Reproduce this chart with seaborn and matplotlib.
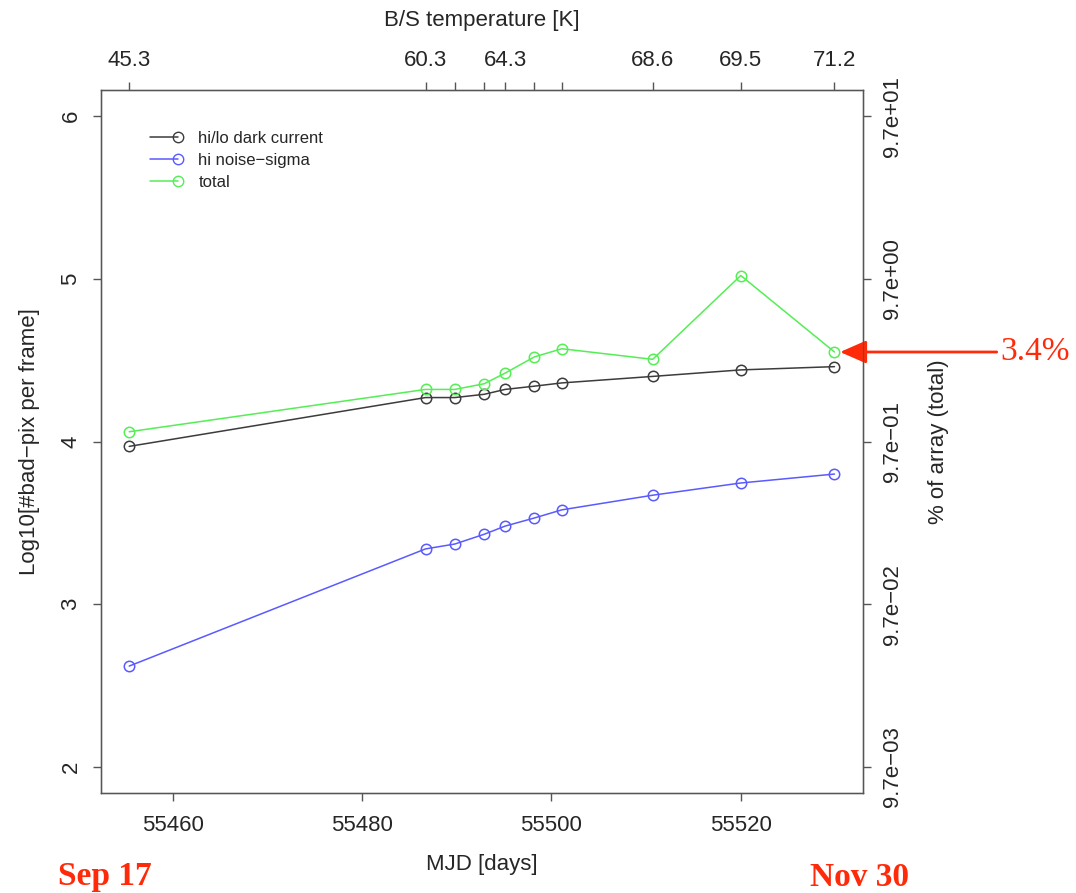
import pandas as pd
import matplotlib.pyplot as plt
import seaborn as sns
from matplotlib.lines import Line2D
from matplotlib.legend_handler import HandlerLine2D

# values
mjd = [55455.4, 55486.7, 55489.8, 55492.9, 55495.1, 55498.2, 55501.1, 55510.7, 55520.0, 55529.9]
temp_labels = ['45.3', '60.3', '', '', '64.3', '', '', '68.6', '69.5', '71.2']
dark_current = [3.97, 4.27, 4.27, 4.29, 4.32, 4.34, 4.36, 4.40, 4.44, 4.46]
noise_sigma = [2.62, 3.34, 3.37, 3.43, 3.48, 3.53, 3.58, 3.67, 3.745, 3.80]
total = [4.06, 4.32, 4.32, 4.355, 4.42, 4.52, 4.57, 4.505, 5.02, 4.55]
series_names = ['hi/lo dark current', 'hi noise\u2212sigma', 'total']
series_colors = ['#3c3c3c', '#5a5aff', '#55ee55']
x_ticks = [55460, 55480, 55500, 55520]
y_ticks = [2, 3, 4, 5, 6]
pct_labels = ['9.7e\u221203', '9.7e\u221202', '9.7e\u221201', '9.7e+00', '9.7e+01']


class EndMarker(HandlerLine2D):
    # R-style legend key: marker only at the right end of the segment
    def create_artists(self, *args, **kwargs):
        arts = super().create_artists(*args, **kwargs)
        for a in arts:
            a.set_markevery([len(a.get_xdata()) - 1])
        return arts


sns.set_style('white')
plt.rcParams['font.family'] = ['Liberation Sans', 'DejaVu Sans']

df = pd.DataFrame({'mjd': mjd * 3,
                   'value': dark_current + noise_sigma + total,
                   'series': [s for s in series_names for _ in mjd]})

W, H = 1076, 893
fig = plt.figure(figsize=(W / 100, H / 100), dpi=100)
ax = fig.add_axes([101 / W, 1 - 793 / H, (862.7 - 101) / W, (793 - 90) / H])

for name, col in zip(series_names, series_colors):
    sns.lineplot(data=df[df['series'] == name], x='mjd', y='value', ax=ax,
                 color=col, lw=1.1, marker='o', markersize=7.5,
                 markerfacecolor='none', markeredgecolor=col, markeredgewidth=1.1,
                 legend=False)

span = mjd[-1] - mjd[0]
ax.set_xlim(mjd[0] - 0.04 * span, mjd[-1] + 0.04 * span)
ax.set_ylim(1.84, 6.16)

axis_col = '#555555'
for sp in ax.spines.values():
    sp.set_visible(True)
    sp.set_color(axis_col)
    sp.set_linewidth(1.0)

ax.set_xticks(x_ticks)
ax.set_yticks(y_ticks)
ax.tick_params(axis='both', direction='out', length=6, width=1, color=axis_col,
               labelsize=16, bottom=True, left=True)
ax.tick_params(axis='x', pad=10)
ax.tick_params(axis='y', pad=8)
for lab in ax.get_yticklabels():
    lab.set_rotation(90)
    lab.set_va('center')
ax.set_xlabel('MJD [days]', fontsize=16, labelpad=13)
ax.set_ylabel('Log10[#bad\u2212pix per frame]', fontsize=16, labelpad=15)

# top axis: B/S temperature at each measurement
top = ax.twiny()
top.set_xlim(ax.get_xlim())
top.set_xticks(mjd)
top.set_xticklabels(temp_labels)
top.tick_params(axis='x', direction='out', length=6, width=1, color=axis_col,
                labelsize=16, pad=8, top=True)
top.set_xlabel('B/S temperature [K]', fontsize=16, labelpad=17)
for sp in top.spines.values():
    sp.set_color(axis_col)

# right axis: percent of array
right = ax.twinx()
right.set_ylim(ax.get_ylim())
right.set_yticks(y_ticks)
right.set_yticklabels(pct_labels)
right.tick_params(axis='y', direction='out', length=6, width=1, color=axis_col,
                  labelsize=16, pad=8, right=True)
for lab in right.get_yticklabels():
    lab.set_rotation(90)
    lab.set_va('center')
right.set_ylabel('% of array (total)', fontsize=16, labelpad=18)
for sp in right.spines.values():
    sp.set_color(axis_col)

handles = [Line2D([0, 1], [0, 0], color=c, lw=1.1, marker='o', markersize=7.5,
                  markerfacecolor='none', markeredgecolor=c)
           for c in series_colors]
ax.legend(handles, series_names, loc='upper left', bbox_to_anchor=(0.038, 0.963),
          frameon=False, fontsize=12, numpoints=2, handlelength=2.3,
          handletextpad=0.9, labelspacing=0.42,
          handler_map={Line2D: EndMarker()})

red = '#ff2a0a'
ax.annotate('3.4%', xy=(mjd[-1], total[-1]), xycoords='data',
            xytext=(1000 / W, total[-1]), textcoords=('figure fraction', 'data'),
            ha='left', va='center', color=red, fontsize=24, family='Liberation Serif',
            annotation_clip=False,
            arrowprops=dict(arrowstyle='-|>,head_length=0.8,head_width=0.35',
                            color=red, lw=2, mutation_scale=20, shrinkA=0, shrinkB=4))

fig.text(105 / W, 1 - 877 / H, 'Sep 17', color=red, fontsize=24, fontweight='bold',
         family='Liberation Serif', ha='center', va='center')
fig.text(860 / W, 1 - 877 / H, 'Nov 30', color=red, fontsize=24, fontweight='bold',
         family='Liberation Serif', ha='center', va='center')

fig.savefig('out.png', dpi=100)
